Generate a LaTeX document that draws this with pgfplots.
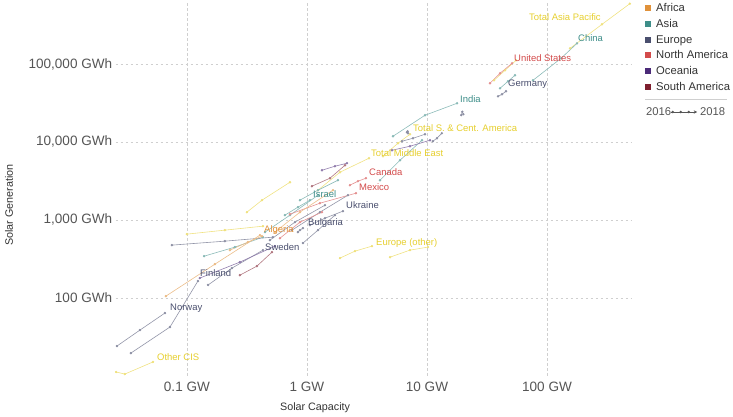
\documentclass[border=0pt]{standalone}
\usepackage{fontspec}
\setmainfont{Liberation Sans}
\usepackage{pgfplots}
\pgfplotsset{compat=1.18}
\usetikzlibrary{arrows.meta}
\definecolor{africa}{HTML}{E0913A}
\definecolor{asia}{HTML}{3E8E89}
\definecolor{europe}{HTML}{4A4F6E}
\definecolor{namerica}{HTML}{D34B4B}
\definecolor{oceania}{HTML}{4B2A78}
\definecolor{samerica}{HTML}{7E1F2E}
\definecolor{total}{HTML}{E6CF2E}
\definecolor{gridc}{HTML}{CFCFCF}
\definecolor{tickc}{HTML}{555555}
\definecolor{titlec}{HTML}{333333}
\pgfplotsset{ser/.style={draw=#1!60!white, line width=0.6bp, mark=*, mark size=0.9bp, mark options={draw=none, fill=#1!85!white}}}
\newcommand{\lab}[4]{\node[anchor=base west, inner sep=0pt, text=#1, font=\fontsize{9.5}{11}\selectfont] at (#2bp,#3bp) {#4};}
\newcommand{\leg}[3]{\node[anchor=base west, inner sep=0pt, font=\fontsize{11.3}{13}\selectfont, text=titlec] at (529.3bp,#2bp) {\textcolor{#1}{\rule[0.5bp]{6bp}{6bp}}\hspace{5bp}#3};}
\begin{document}
\begin{tikzpicture}
\path[use as bounding box] (-115.7bp,-41.3bp) rectangle (617.3bp,375.7bp);
\begin{axis}[
  at={(0,0)}, anchor=south west,
  scale only axis, width=515.2bp, height=372.3bp,
  xmode=log, ymode=log,
  xmin=0.0255, xmax=500, ymin=10, ymax=600000,
  xtick={0.1,1,10,100}, xticklabels={0.1 GW,1 GW,10 GW,100 GW},
  ytick={100,1000,10000,100000}, yticklabels={100 GWh,{1,000 GWh},{10,000 GWh},{100,000 GWh}},
  minor xtick={}, minor ytick={},
  axis line style={draw=none},
  major tick length=0pt, minor tick length=0pt,
  grid=major, major grid style={gridc, dash pattern=on 2.5bp off 2.5bp, line width=0.5bp},
  tick label style={font=\fontsize{13.6}{15}\selectfont, text=tickc},
  xticklabel style={yshift=-2.5bp},
  xlabel={Solar Capacity}, ylabel={Solar Generation},
  label style={font=\fontsize{10.8}{12}\selectfont, text=titlec},
  xlabel style={at={(axis description cs:0.387,-0.0948)}, anchor=base},
  ylabel style={at={(axis description cs:-0.2071,0.4585)}, anchor=center},
  clip=false,
]
% Totals
\addplot[ser=total] coordinates {(155.5,159000) (287,323000) (490,595000)};
\addplot[ser=total] coordinates {(36.2,61800) (44.7,83000) (55.2,111500)};
\addplot[ser=total] coordinates {(4.30,6556) (5.73,9620) (7.22,12550)};
\addplot[ser=total] coordinates {(1.235,2403) (1.884,4088) (3.286,6180)};
\addplot[ser=total] coordinates {(4.92,332) (7.22,409) (10.19,447)};
\addplot[ser=total] coordinates {(1.884,323) (2.512,397) (3.481,460)};
\addplot[ser=total] coordinates {(0.100,656) (0.207,738) (0.430,830)};
\addplot[ser=total] coordinates {(0.316,1255) (0.422,1789) (0.722,3043)};
\addplot[ser=total] coordinates {(0.0257,11.15) (0.0304,10.5) (0.0521,15.0)};
% Asia
\addplot[ser=asia] coordinates {(76.4,61800) (130.8,118300) (177.8,184200)};
\addplot[ser=asia] coordinates {(40.6,48800) (47.3,60000) (54.1,71700)};
\addplot[ser=asia] coordinates {(5.21,11830) (9.62,22000) (17.8,31340)};
\addplot[ser=asia] coordinates {(4.06,3228) (5.96,5828) (9.08,10510)};
\addplot[ser=asia] coordinates {(0.655,1149) (0.841,1455) (1.059,1789)};
\addplot[ser=asia] coordinates {(0.139,342) (0.251,447) (0.430,600)};
\addplot[ser=asia] coordinates {(0.447,696) (0.722,1149) (1.235,2074)};
\addplot[ser=asia] coordinates {(0.874,1789) (1.235,2403) (1.812,3228)};
% Europe
\addplot[ser=europe] coordinates {(39.1,38500) (42.2,40900) (45.5,44700)};
\addplot[ser=europe] coordinates {(19.3,22100) (19.7,24400) (20.1,22700)};
\addplot[ser=europe] coordinates {(11.2,10210) (12.1,11150) (13.3,12930)};
\addplot[ser=europe] coordinates {(6.8,13300) (6.9,13700) (6.95,12900)};
\addplot[ser=europe] coordinates {(6.19,10210) (7.64,11150) (9.62,12550)};
\addplot[ser=europe] coordinates {(1.059,855) (1.413,1051) (1.995,1293)};
\addplot[ser=europe] coordinates {(0.926,503) (1.235,738) (1.711,1149)};
\addplot[ser=europe] coordinates {(0.841,696) (0.874,738) (0.926,783)};
\addplot[ser=europe] coordinates {(0.150,146) (0.237,240) (0.430,409)};
\addplot[ser=europe] coordinates {(0.075,474) (0.207,533) (0.521,600)};
\addplot[ser=europe] coordinates {(0.491,549) (0.794,934) (1.413,1543)};
\addplot[ser=europe] coordinates {(0.750,738) (1.283,1255) (2.196,2074)};
\addplot[ser=europe] coordinates {(0.0261,24.0) (0.0406,38.5) (0.0656,63.7)};
\addplot[ser=europe] coordinates {(0.0341,19.5) (0.0722,42.1) (0.1235,164)};
% North America
\addplot[ser=namerica] coordinates {(33.5,56600) (40.6,76000) (51.1,102100)};
\addplot[ser=namerica] coordinates {(2.28,2786) (2.66,3134) (3.10,3424)};
\addplot[ser=namerica] coordinates {(0.722,1183) (1.283,1637) (2.561,2199)};
\addplot[ser=namerica] coordinates {(0.596,582) (0.874,934) (1.334,1255)};
% Oceania
\addplot[ser=oceania] coordinates {(5.11,7830) (7.22,8810) (10.59,10510)};
\addplot[ser=oceania] coordinates {(0.128,179) (0.276,287) (0.541,460)};
\addplot[ser=oceania] coordinates {(1.334,4337) (1.711,4881) (2.154,5333)};
% South America
\addplot[ser=samerica] coordinates {(1.10,2705) (1.555,3424) (2.074,5026)};
\addplot[ser=samerica] coordinates {(0.276,195) (0.383,255) (0.511,385)};
% Africa
\addplot[ser=africa] coordinates {(0.228,409) (0.322,518) (0.422,618)};
\addplot[ser=africa] coordinates {(0.0668,105) (0.171,270) (0.406,637)};
\addplot[ser=africa] coordinates {(0.541,696) (0.874,1255) (1.647,2403)};
\end{axis}
% data labels
\lab{total}{413.3}{355.3}{Total Asia Pacific}
\lab{asia}{462.3}{334.3}{China}
\lab{namerica}{398.3}{314.3}{United States}
\lab{europe}{392.3}{289.3}{Germany}
\lab{asia}{344.3}{273.3}{India}
\lab{total}{297.3}{244.3}{Total S. \& Cent. America}
\lab{total}{255.3}{219.3}{Total Middle East}
\lab{namerica}{253.3}{200.3}{Canada}
\lab{namerica}{243.3}{185.3}{Mexico}
\lab{asia}{197.3}{178.3}{Israel}
\lab{europe}{230.3}{167.3}{Ukraine}
\lab{europe}{192.3}{150.3}{Bulgaria}
\lab{africa}{148.3}{143.3}{Algeria}
\lab{total}{260.3}{130.3}{Europe (other)}
\lab{europe}{149.3}{125.3}{Sweden}
\lab{europe}{84.3}{99.3}{Finland}
\lab{europe}{54.3}{65.3}{Norway}
\lab{total}{41.3}{15.3}{Other CIS}
% legend
\leg{africa}{363.7}{Africa}
\leg{asia}{347.7}{Asia}
\leg{europe}{331.7}{Europe}
\leg{namerica}{316.7}{North America}
\leg{oceania}{300.7}{Oceania}
\leg{samerica}{284.7}{South America}
\draw[gridc, line width=0.6bp] (529.3bp,276.7bp) -- (611.3bp,276.7bp);
\node[anchor=base west, inner sep=0pt, font=\fontsize{11.3}{13}\selectfont, text=tickc] at (530.3bp,259.7bp) {2016};
\node[anchor=base west, inner sep=0pt, font=\fontsize{11.3}{13}\selectfont, text=tickc] at (584.3bp,259.7bp) {2018};
\draw[tickc, line width=0.5bp, -{Stealth[length=3.5bp,width=3.5bp]}] (555bp,263.7bp) -- (581.5bp,263.7bp);
\foreach \xx in {557,565,573} {\fill[tickc] (\xx bp,263.7bp) circle (1.3bp);}
\end{tikzpicture}
\end{document}
